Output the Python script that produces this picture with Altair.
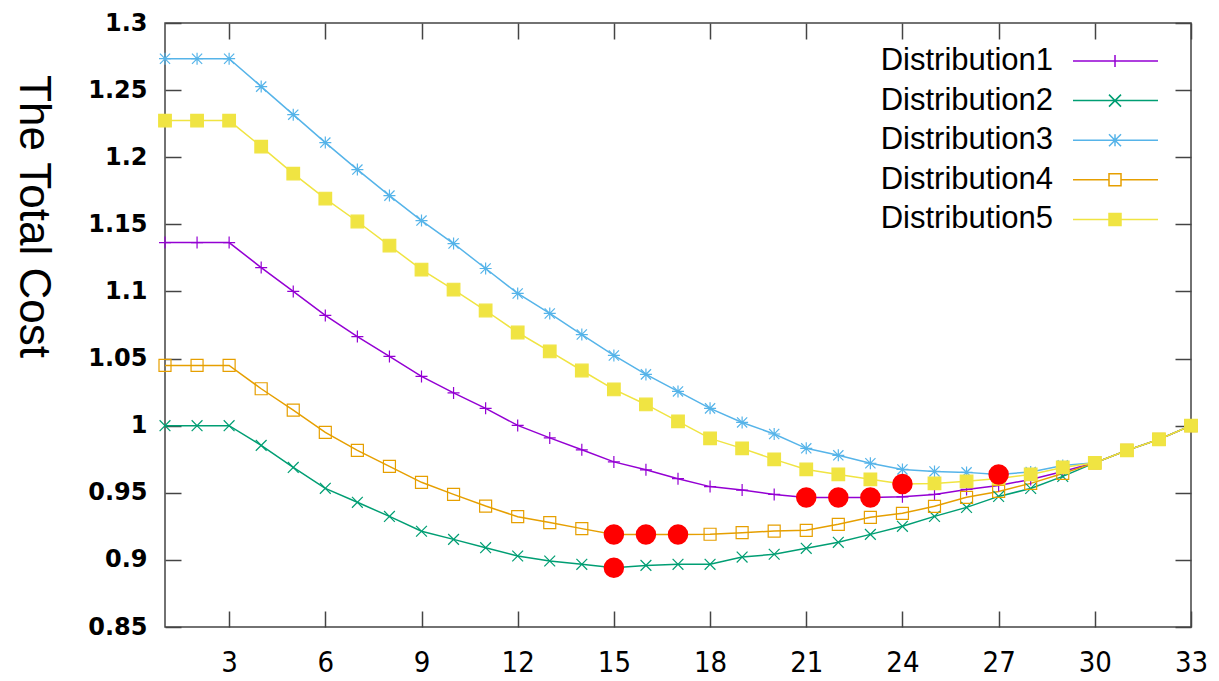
import altair as alt
import pandas as pd

# ---------------- data ----------------
x_vals = list(range(1, 34))
series_names = ["Distribution1", "Distribution2", "Distribution3", "Distribution4", "Distribution5"]

dist1 = [1.1364, 1.1364, 1.1364, 1.1178, 1.1000, 1.0821, 1.0664, 1.0516, 1.0367, 1.0244,
         1.0129, 1.0002, 0.9909, 0.9820, 0.9730, 0.9671, 0.9605, 0.9546, 0.9520, 0.9488,
         0.9464, 0.9464, 0.9464, 0.9470, 0.9488, 0.9525, 0.9555, 0.9599, 0.9659, 0.9723,
         0.9816, 0.9898, 1.0000]
dist2 = [1.0000, 1.0000, 1.0000, 0.9853, 0.9689, 0.9533, 0.9429, 0.9324, 0.9213, 0.9153,
         0.9091, 0.9029, 0.8992, 0.8967, 0.8942, 0.8959, 0.8967, 0.8967, 0.9021, 0.9042,
         0.9086, 0.9131, 0.9190, 0.9250, 0.9324, 0.9391, 0.9473, 0.9532, 0.9622, 0.9723,
         0.9816, 0.9898, 1.0000]
dist3 = [1.2734, 1.2734, 1.2734, 1.2526, 1.2317, 1.2109, 1.1908, 1.1714, 1.1528, 1.1357,
         1.1171, 1.0985, 1.0836, 1.0679, 1.0523, 1.0382, 1.0255, 1.0129, 1.0024, 0.9938,
         0.9831, 0.9779, 0.9720, 0.9674, 0.9659, 0.9652, 0.9637, 0.9655, 0.9704, 0.9723,
         0.9816, 0.9898, 1.0000]
dist4 = [1.0449, 1.0449, 1.0449, 1.0275, 1.0116, 0.9950, 0.9816, 0.9697, 0.9578, 0.9488,
         0.9401, 0.9322, 0.9278, 0.9233, 0.9190, 0.9190, 0.9190, 0.9191, 0.9203, 0.9215,
         0.9220, 0.9265, 0.9317, 0.9347, 0.9399, 0.9466, 0.9510, 0.9570, 0.9644, 0.9723,
         0.9816, 0.9898, 1.0000]
dist5 = [1.2273, 1.2273, 1.2273, 1.2079, 1.1878, 1.1692, 1.1521, 1.1342, 1.1163, 1.1014,
         1.0858, 1.0694, 1.0553, 1.0411, 1.0270, 1.0158, 1.0032, 0.9905, 0.9831, 0.9749,
         0.9674, 0.9637, 0.9600, 0.9566, 0.9570, 0.9585, 0.9607, 0.9637, 0.9689, 0.9723,
         0.9816, 0.9898, 1.0000]

# highlighted minima (red dots): series and x position
red_series = ["Distribution2", "Distribution4", "Distribution4", "Distribution4",
              "Distribution1", "Distribution1", "Distribution1", "Distribution5", "Distribution3"]
red_x = [15, 15, 16, 17, 21, 22, 23, 24, 27]

x_ticks = [3, 6, 9, 12, 15, 18, 21, 24, 27, 30, 33]
y_ticks = [0.85, 0.9, 0.95, 1.0, 1.05, 1.1, 1.15, 1.2, 1.25, 1.3]

colors = ["#9400d3", "#009e73", "#56b4e9", "#e69f00", "#f0e442"]
fills = ["transparent", "transparent", "transparent", "transparent", "#f0e442"]

# plot marker shapes (plus, cross, star, open square, filled square)
marker_paths = [
    "M-1,0H1M0,-1V1",
    "M-0.9,-0.9L0.9,0.9M-0.9,0.9L0.9,-0.9",
    "M-1,0H1M0,-1V1M-0.85,-0.85L0.85,0.85M-0.85,0.85L0.85,-0.85",
    "M-1,-1H1V1H-1Z",
    "M-1.05,-1.05H1.05V1.05H-1.05Z",
]
# legend samples: a line with the marker in its middle, drawn to the right of the label
a, b, c, m = 2.105, 6.58, 4.316, 0.316
legend_paths = [
    f"M{a},0H{b}M{c},{-m}V{m}",
    f"M{a},0H{b}M{c-m},{-m}L{c+m},{m}M{c-m},{m}L{c+m},{-m}",
    f"M{a},0H{b}M{c},{-m}V{m}M{c-m},{-m}L{c+m},{m}M{c-m},{m}L{c+m},{-m}",
    f"M{a},0H{c-m}M{c+m},0H{b}M{c-m},{-m}H{c+m}V{m}H{c-m}Z",
    f"M{a},0H{b}M{c-m},{-m}H{c+m}V{m}H{c-m}Z",
]

# ---------------- tables ----------------
all_series = [dist1, dist2, dist3, dist4, dist5]
rows = []
for name, vals in zip(series_names, all_series):
    for xv, yv in zip(x_vals, vals):
        rows.append({"x": xv, "y": yv, "series": name})
df = pd.DataFrame(rows)

lookup = {name: dict(zip(x_vals, vals)) for name, vals in zip(series_names, all_series)}
red_df = pd.DataFrame({"x": red_x, "y": [lookup[s][xv] for s, xv in zip(red_series, red_x)]})

W, H = 1026, 604
xscale = alt.Scale(domain=[1, 33], nice=False, zero=False)
yscale = alt.Scale(domain=[0.85, 1.3], nice=False, zero=False)

tick_common = dict(labels=False, domain=False, ticks=True, tickSize=16, title=None, grid=False)

ax_x_labels = alt.Axis(orient="bottom", values=x_ticks, ticks=False, tickSize=0, domain=False,
                       grid=False, title=None, labelFont="Liberation Sans Narrow, DejaVu Sans Condensed, sans-serif",
                       labelFontSize=29, labelColor="black", labelPadding=21,
                       labelFlush=False, labelOverlap=False)
ax_x_bottom_ticks = alt.Axis(orient="top", offset=-H, values=x_ticks, **tick_common)
ax_x_top_ticks = alt.Axis(orient="bottom", offset=-H, values=x_ticks, **tick_common)

ax_y_labels = alt.Axis(orient="left", values=y_ticks, ticks=False, tickSize=0, domain=False,
                       grid=False, format="~g", labelFont="DejaVu Sans", labelFontWeight="bold",
                       labelFontSize=24, labelColor="black", labelPadding=18,
                       labelFlush=False, labelOverlap=False,
                       title="The Total Cost", titleAngle=90, titleX=-146, titleY=193,
                       titleAlign="center", titleBaseline="alphabetic",
                       titleFont="Liberation Sans", titleFontSize=44, titleFontWeight="normal",
                       titleColor="black")
ax_y_left_ticks = alt.Axis(orient="right", offset=-W, values=y_ticks, **tick_common)
ax_y_right_ticks = alt.Axis(orient="left", offset=-W, values=y_ticks, **tick_common)

stroke_scale = alt.Scale(domain=series_names, range=colors)
fill_scale = alt.Scale(domain=series_names, range=fills)

lines = alt.Chart(df).mark_line(strokeWidth=1.5, opacity=1).encode(
    x=alt.X("x:Q", scale=xscale, axis=ax_x_labels),
    y=alt.Y("y:Q", scale=yscale, axis=ax_y_labels),
    stroke=alt.Stroke("series:N", scale=stroke_scale, legend=None),
    order="x:Q",
)

markers = alt.Chart(df).mark_point(filled=False, opacity=1, strokeWidth=1.2, size=144).encode(
    x=alt.X("x:Q", scale=xscale, axis=ax_x_bottom_ticks),
    y=alt.Y("y:Q", scale=yscale, axis=ax_y_left_ticks),
    stroke=alt.Stroke("series:N", scale=stroke_scale, legend=None),
    fill=alt.Fill("series:N", scale=fill_scale, legend=None),
    shape=alt.Shape("series:N", scale=alt.Scale(domain=series_names, range=marker_paths), legend=None),
)

reds = alt.Chart(red_df).mark_circle(size=420, color="#ff0000", opacity=1).encode(
    x=alt.X("x:Q", scale=xscale, axis=ax_x_top_ticks),
    y=alt.Y("y:Q", scale=yscale, axis=ax_y_right_ticks),
)

leg = alt.Legend(orient="none", legendX=848, legendY=18, title=None, padding=0,
                 labelAlign="right", labelOffset=0, labelLimit=0, symbolOffset=0,
                 labelFont="Liberation Sans", labelFontSize=31, labelColor="black",
                 symbolSize=1444, symbolStrokeWidth=1.5, symbolOpacity=1, rowPadding=4.6)

legend_layer = alt.Chart(df).transform_filter("false").mark_point(
    filled=False, opacity=1, strokeWidth=1.5).encode(
    stroke=alt.Stroke("series:N", scale=stroke_scale, legend=leg),
    fill=alt.Fill("series:N", scale=fill_scale, legend=leg),
    shape=alt.Shape("series:N", scale=alt.Scale(domain=series_names, range=legend_paths), legend=leg),
)

chart = alt.layer(lines, markers, reds, legend_layer).resolve_scale(
    shape="independent", stroke="independent", fill="independent"
).resolve_axis(
    x="independent", y="independent"
).properties(
    width=W, height=H,
    autosize=alt.AutoSizeParams(type="none"),
    padding={"left": 157, "top": 15, "right": 20, "bottom": 52},
).configure_view(
    stroke="#444", strokeWidth=1.5
).configure_axis(
    grid=False, tickColor="#444", tickWidth=1.5
)

chart.save("out.html", embed_options={"renderer": "svg", "actions": False})
